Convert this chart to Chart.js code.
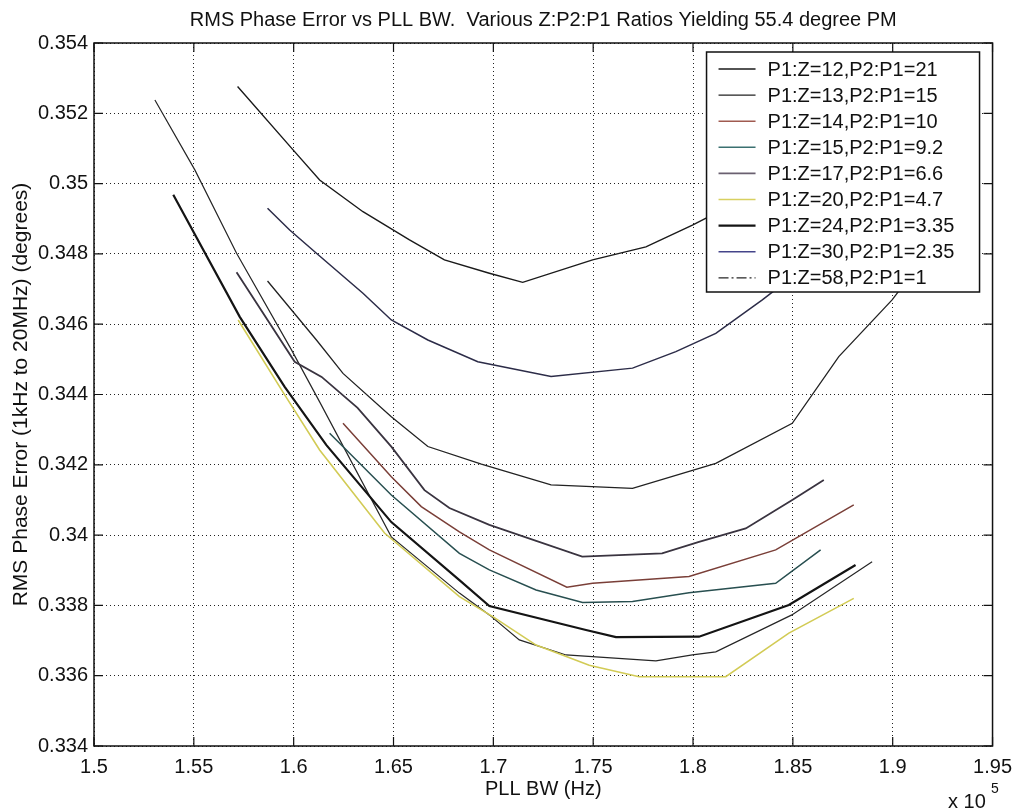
<!DOCTYPE html>
<html>
<head>
<meta charset="utf-8">
<script src="https://cdn.jsdelivr.net/npm/chart.js@4.4.1/dist/chart.umd.min.js"></script>
<style>
  html, body { margin: 0; background: #fff; }
</style>
</head>
<body>
<canvas id="phaseChart" width="1021" height="812"></canvas>
<script>
// axis ticks (PLL BW in units of 1e5 Hz)
const xTickValues = [1.5, 1.55, 1.6, 1.65, 1.7, 1.75, 1.8, 1.85, 1.9, 1.95];
const xTickLabels = ['1.5', '1.55', '1.6', '1.65', '1.7', '1.75', '1.8', '1.85', '1.9', '1.95'];
const yTickValues = [0.334, 0.336, 0.338, 0.340, 0.342, 0.344, 0.346, 0.348, 0.350, 0.352, 0.354];
const yTickLabels = ['0.334', '0.336', '0.338', '0.34', '0.342', '0.344', '0.346', '0.348', '0.35', '0.352', '0.354'];

const seriesLabels = [
    'P1:Z=12,P2:P1=21',
    'P1:Z=13,P2:P1=15',
    'P1:Z=14,P2:P1=10',
    'P1:Z=15,P2:P1=9.2',
    'P1:Z=17,P2:P1=6.6',
    'P1:Z=20,P2:P1=4.7',
    'P1:Z=24,P2:P1=3.35',
    'P1:Z=30,P2:P1=2.35',
    'P1:Z=58,P2:P1=1',
];

const bw12 = [1.5719, 1.5997, 1.613, 1.6347, 1.658, 1.6755, 1.698, 1.7147, 1.7497, 1.7764, 1.7997, 1.83, 1.86];
const err12 = [0.35276, 0.35096, 0.35010, 0.34920, 0.34840, 0.34783, 0.34745, 0.34719, 0.34783, 0.34820, 0.34882, 0.3497, 0.3506];

const bw13 = [1.5869, 1.6114, 1.6247, 1.6489, 1.6672, 1.694, 1.7289, 1.7697, 1.8114, 1.8497, 1.873, 1.8997, 1.92];
const err13 = [0.34723, 0.34555, 0.34460, 0.34337, 0.34252, 0.34202, 0.34143, 0.34133, 0.34204, 0.34318, 0.34508, 0.34669, 0.3482];

const bw14 = [1.6247, 1.6489, 1.6639, 1.683, 1.698, 1.7368, 1.7497, 1.798, 1.8414, 1.8805];
const err14 = [0.34318, 0.34166, 0.34081, 0.34009, 0.33958, 0.33852, 0.33863, 0.33882, 0.33958, 0.34086];

const bw15 = [1.618, 1.6489, 1.683, 1.698, 1.7214, 1.7447, 1.7697, 1.798, 1.8414, 1.8639];
const err15 = [0.34290, 0.34114, 0.33948, 0.33901, 0.33844, 0.33808, 0.33811, 0.33836, 0.33863, 0.33958];

const bw17 = [1.5714, 1.6005, 1.614, 1.632, 1.649, 1.6655, 1.678, 1.698, 1.7445, 1.7845, 1.803, 1.8264, 1.8497, 1.8655];
const err17 = [0.34748, 0.34493, 0.34450, 0.34362, 0.34251, 0.34128, 0.34077, 0.34029, 0.33939, 0.33948, 0.33981, 0.34019, 0.34100, 0.34157];

const bw20 = [1.5722, 1.5955, 1.613, 1.6455, 1.683, 1.6997, 1.7214, 1.748, 1.773, 1.8164, 1.848, 1.8805];
const err20 = [0.34612, 0.34399, 0.34242, 0.34006, 0.33825, 0.33768, 0.33687, 0.33630, 0.33597, 0.33597, 0.33721, 0.33820];

const bw24 = [1.5397, 1.573, 1.5955, 1.6164, 1.6489, 1.683, 1.698, 1.7464, 1.7614, 1.803, 1.848, 1.8814];
const err24 = [0.34968, 0.34621, 0.34422, 0.34256, 0.34037, 0.33872, 0.33798, 0.33730, 0.33710, 0.33711, 0.33801, 0.33915];

const bw30 = [1.5869, 1.598, 1.6114, 1.6347, 1.6489, 1.6672, 1.6922, 1.7289, 1.7697, 1.7914, 1.8114, 1.8347, 1.86];
const err30 = [0.34930, 0.34868, 0.34802, 0.34688, 0.34612, 0.34555, 0.34493, 0.34451, 0.34475, 0.34522, 0.34574, 0.34669, 0.3478];

const bw58 = [1.5305, 1.5505, 1.5714, 1.5989, 1.613, 1.6489, 1.683, 1.698, 1.713, 1.7364, 1.7814, 1.7997, 1.8114, 1.8495, 1.8897];
const err58 = [0.35238, 0.35039, 0.34802, 0.34527, 0.34379, 0.33995, 0.33835, 0.33773, 0.33702, 0.33659, 0.33642, 0.33659, 0.33668, 0.33773, 0.33924];

const seriesX = [bw12, bw13, bw14, bw15, bw17, bw20, bw24, bw30, bw58];
const seriesY = [err12, err13, err14, err15, err17, err20, err24, err30, err58];
const lineColors = ['#1a1a1a', '#222222', '#7a3f38', '#284f50', '#3a3440', '#d2cb55', '#141414', '#2c2c48', '#262626'];
const lineWidths = [1.4, 1.3, 1.5, 1.5, 1.8, 1.6, 2.2, 1.5, 1.2];
const legendColors = ['#1a1a1a', '#222222', '#a05a50', '#3a7070', '#6a6070', '#d8d060', '#141414', '#44448a', '#262626'];
const legendDash = [[], [], [], [], [], [], [], [], [10, 3, 2, 3]];

const fontFamily = '"Liberation Sans", Arial, Helvetica, sans-serif';
Chart.defaults.font.family = fontFamily;
Chart.defaults.font.size = 20;
Chart.defaults.color = '#111';

const datasets = seriesLabels.map((label, i) => ({
    label: label,
    data: seriesX[i].map((x, j) => ({ x: x, y: seriesY[i][j] })),
    borderColor: lineColors[i],
    borderWidth: lineWidths[i],
    pointRadius: 0,
    tension: 0,
    fill: false,
}));

const framePlugin = {
    id: 'matlabFrame',
    afterDraw(chart) {
        const { ctx, chartArea: a, scales } = chart;
        ctx.save();
        // box
        ctx.strokeStyle = '#111';
        ctx.lineWidth = 1.5;
        ctx.strokeRect(a.left, a.top, a.right - a.left, a.bottom - a.top);
        // inward ticks on all sides
        const tl = 9;
        ctx.lineWidth = 1.2;
        ctx.beginPath();
        xTickValues.forEach(v => {
            const px = scales.x.getPixelForValue(v);
            ctx.moveTo(px, a.bottom); ctx.lineTo(px, a.bottom - tl);
            ctx.moveTo(px, a.top); ctx.lineTo(px, a.top + tl);
        });
        yTickValues.forEach(v => {
            const py = scales.y.getPixelForValue(v);
            ctx.moveTo(a.left, py); ctx.lineTo(a.left + tl, py);
            ctx.moveTo(a.right, py); ctx.lineTo(a.right - tl, py);
        });
        ctx.stroke();

        // legend box inside the axes
        const w = 273, h = 240;
        const bx = a.right - 13 - w, by = a.top + 9;
        ctx.fillStyle = '#fff';
        ctx.fillRect(bx, by, w, h);
        ctx.lineWidth = 1.5;
        ctx.strokeStyle = '#111';
        ctx.strokeRect(bx, by, w, h);
        ctx.font = '20px ' + fontFamily;
        ctx.textBaseline = 'middle';
        ctx.textAlign = 'left';
        chart.data.datasets.forEach((ds, i) => {
            const ry = by + 17 + i * 26.1;
            ctx.beginPath();
            ctx.strokeStyle = legendColors[i];
            ctx.lineWidth = ds.borderWidth;
            ctx.setLineDash(legendDash[i]);
            ctx.moveTo(bx + 12, ry);
            ctx.lineTo(bx + 49, ry);
            ctx.stroke();
            ctx.setLineDash([]);
            ctx.fillStyle = '#111';
            ctx.fillText(ds.label, bx + 61, ry + 1);
        });

        // titles
        const cx = (a.left + a.right) / 2;
        ctx.fillStyle = '#111';
        ctx.textAlign = 'center';
        ctx.font = '20px ' + fontFamily;
        ctx.fillText('RMS Phase Error vs PLL BW.  Various Z:P2:P1 Ratios Yielding 55.4 degree PM', cx, 20);
        ctx.fillText('PLL BW (Hz)', cx, 789);
        ctx.save();
        ctx.translate(21, (a.top + a.bottom) / 2);
        ctx.rotate(-Math.PI / 2);
        ctx.font = '21px ' + fontFamily;
        ctx.fillText('RMS Phase Error (1kHz to 20MHz) (degrees)', 0, 0);
        ctx.restore();
        ctx.textAlign = 'left';
        ctx.font = '20px ' + fontFamily;
        ctx.fillText('x 10', 948, 802);
        ctx.font = '14px ' + fontFamily;
        ctx.fillText('5', 991, 789);
        ctx.restore();
    }
};

new Chart(document.getElementById('phaseChart'), {
    type: 'line',
    data: { datasets: datasets },
    options: {
        responsive: false,
        animation: false,
        layout: { padding: { top: 43, right: 26, left: 0, bottom: 0 } },
        plugins: {
            legend: { display: false },
            title: { display: false },
            tooltip: { enabled: false },
        },
        scales: {
            x: {
                type: 'linear',
                min: 1.5,
                max: 1.95,
                afterBuildTicks: (scale) => { scale.ticks = xTickValues.map(v => ({ value: v })); },
                afterFit: (scale) => { scale.height = 66; },
                ticks: {
                    autoSkip: false,
                    maxRotation: 0,
                    padding: 9,
                    color: '#111',
                    callback: (v, i) => xTickLabels[i],
                },
                grid: { color: '#222', lineWidth: 1, drawTicks: false },
                border: { display: false, dash: [1, 3] },
            },
            y: {
                type: 'linear',
                min: 0.334,
                max: 0.354,
                afterBuildTicks: (scale) => { scale.ticks = yTickValues.map(v => ({ value: v })); },
                afterFit: (scale) => { scale.width = 94; },
                ticks: {
                    autoSkip: false,
                    padding: 6,
                    color: '#111',
                    callback: (v, i) => yTickLabels[i],
                },
                grid: { color: '#222', lineWidth: 1, drawTicks: false },
                border: { display: false, dash: [1, 3] },
            },
        },
    },
    plugins: [framePlugin],
});
</script>
</body>
</html>
